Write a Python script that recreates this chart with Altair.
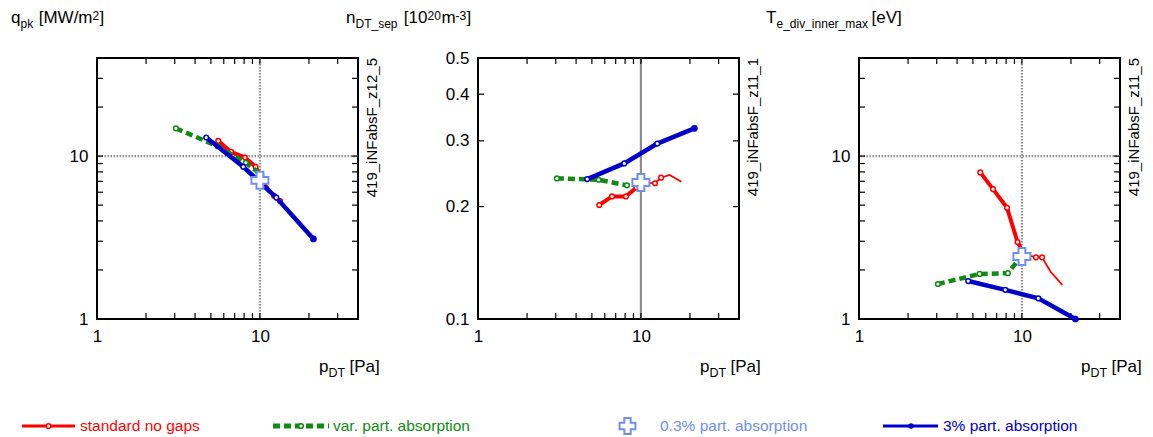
import altair as alt
import pandas as pd

FONT = "Liberation Sans"

# ---------------- data ----------------
# pressure p_DT [Pa]
p_red = [5.55, 6.65, 8.1, 9.4, 10.3, 12.2, 13.3, 15.0, 17.7]
p_green = [3.05, 5.5, 8.2, 10.5]
p_blue = [4.68, 7.9, 12.6, 21.3]
p_cross = [10.0]

# q_pk [MW/m2]
q_red = [12.4, 10.6, 9.8, 8.6, 7.3, 5.7, 5.3, 4.5, 3.8]
q_green = [14.8, 11.5, 9.1, 7.5]
q_blue = [13.0, 8.6, 5.56, 3.1]
q_cross = [7.1]

# n_DT_sep [1e20 m^-3]
n_red = [0.202, 0.213, 0.213, 0.225, 0.232, 0.231, 0.239, 0.243, 0.233]
n_green = [0.238, 0.236, 0.228, 0.229]
n_blue = [0.237, 0.261, 0.295, 0.324]
n_cross = [0.232]

# T_e_div_inner_max [eV]
T_red = [7.94, 6.27, 4.82, 2.97, 2.5, 2.39, 2.39, 1.95, 1.62]
T_green = [1.64, 1.89, 1.91, 2.6]
T_blue = [1.71, 1.51, 1.34, 1.0]
T_cross = [2.42]

x_labels = [1, 10]
x_ticks = [2, 3, 4, 5, 6, 7, 8, 9, 10, 20, 30]
x_grid = [10]
y_labels_a = [1, 10]
y_ticks_a = [2, 3, 4, 5, 6, 7, 8, 9, 10, 20, 30]
y_grid_a = [10]
y_labels_b = [0.1, 0.2, 0.3, 0.4, 0.5]
y_ticks_b = [0.2, 0.3, 0.4]

legend_names = ["standard no gaps", "var. part. absorption",
                "0.3% part. absorption", "3% part. absorption"]
run_ids = ["419_iNFabsF_z12_5", "419_iNFabsF_z11_1", "419_iNFabsF_z11_5"]

RED = "#ff0000"
GREEN = "#118a11"
BLUE = "#0000cc"
LBLUE = "#6f8ff0"

W = 261
H = 261
one = pd.DataFrame({"k": [0]})


def txt(s, x, y, size=16, color="black", align="left", baseline="alphabetic", angle=0):
    return alt.Chart(one).mark_text(
        text=s, align=align, baseline=baseline, fontSize=size, font=FONT,
        color=color, angle=angle
    ).encode(x=alt.value(x), y=alt.value(y))


def panel(pr, yr, pg, yg, pb, yb, pc, yc, ydom, ylabels, yticks, ygrid,
          title_parts, run_id, extra, grid_dash=(1.5, 1.5)):
    X = alt.X("p:Q", scale=alt.Scale(type="log", domain=[1, 40], nice=False),
              axis=alt.Axis(values=x_labels, format="~g", title=None, ticks=False,
                            domain=False, grid=False, labelFontSize=17, labelFont=FONT,
                            labelColor="black", labelPadding=9, labelFlush=False,
                            labelOverlap=False))
    Y = alt.Y("v:Q", scale=alt.Scale(type="log", domain=ydom, nice=False),
              axis=alt.Axis(values=ylabels, format="~g", title=None, ticks=False,
                            domain=False, grid=False, labelFontSize=17, labelFont=FONT,
                            labelColor="black", labelPadding=9, labelFlush=False,
                            labelOverlap=False))
    red = pd.DataFrame({"p": pr, "v": yr})
    green = pd.DataFrame({"p": pg, "v": yg})
    blue = pd.DataFrame({"p": pb, "v": yb})
    cross = pd.DataFrame({"p": pc, "v": yc})
    xt = pd.DataFrame({"p": x_ticks})
    yt = pd.DataFrame({"v": yticks})

    layers = []
    # grid lines at the decades
    layers.append(alt.Chart(pd.DataFrame({"p": x_grid})).mark_rule(
        color="#8c8c8c", strokeWidth=2.2, strokeDash=list(grid_dash)).encode(x=X))
    if ygrid:
        layers.append(alt.Chart(pd.DataFrame({"v": ygrid})).mark_rule(
            color="#8c8c8c", strokeWidth=2.2, strokeDash=list(grid_dash)).encode(y=Y))
    # inward ticks on all four sides
    tk = dict(color="black", strokeWidth=1.2)
    layers.append(alt.Chart(xt).mark_rule(**tk).encode(x=X, y=alt.value(H), y2=alt.value(H - 6)))
    layers.append(alt.Chart(xt).mark_rule(**tk).encode(x=X, y=alt.value(0), y2=alt.value(6)))
    layers.append(alt.Chart(yt).mark_rule(**tk).encode(y=Y, x=alt.value(0), x2=alt.value(6)))
    layers.append(alt.Chart(yt).mark_rule(**tk).encode(y=Y, x=alt.value(W - 6), x2=alt.value(W)))

    # standard no gaps (red): thick first part, thin tail
    layers.append(alt.Chart(red.iloc[:5]).mark_line(color=RED, strokeWidth=4).encode(x=X, y=Y))
    layers.append(alt.Chart(red.iloc[4:]).mark_line(color=RED, strokeWidth=1.8).encode(x=X, y=Y))
    layers.append(alt.Chart(red.iloc[[0, 1, 2, 3, 5, 6]]).mark_point(
        shape="circle", filled=True, fill="white", stroke=RED, strokeWidth=1.5,
        size=22, opacity=1).encode(x=X, y=Y))
    # var. part. absorption (green dashed)
    layers.append(alt.Chart(green).mark_line(color=GREEN, strokeWidth=4.5,
                                             strokeDash=[7, 4]).encode(x=X, y=Y))
    layers.append(alt.Chart(green.iloc[:3]).mark_point(
        shape="circle", filled=True, fill="white", stroke=GREEN, strokeWidth=1.5,
        size=22, opacity=1).encode(x=X, y=Y))
    # 3% part. absorption (blue)
    layers.append(alt.Chart(blue).mark_line(color=BLUE, strokeWidth=4.5).encode(x=X, y=Y))
    layers.append(alt.Chart(blue.iloc[:3]).mark_point(
        shape="circle", filled=True, fill="white", stroke=BLUE, strokeWidth=1.5,
        size=22, opacity=1).encode(x=X, y=Y))
    layers.append(alt.Chart(blue.iloc[3:]).mark_point(
        shape="circle", filled=True, color=BLUE, size=45, opacity=1).encode(x=X, y=Y))
    # 0.3% part. absorption (open cross)
    layers.append(alt.Chart(cross).mark_point(
        shape="cross", filled=True, fill="white", stroke=LBLUE, strokeWidth=2,
        size=290, opacity=1).encode(x=X, y=Y))

    # titles
    for (s, x, y, size) in title_parts:
        layers.append(txt(s, x, y, size))
    # x-axis title p_DT [Pa]
    layers.append(txt("p", 222, 314, 17))
    layers.append(txt("DT", 231.5, 319, 12.5))
    layers.append(txt("[Pa]", 252.5, 314, 17))
    # run id (rotated)
    layers.append(txt(run_id, W + 14, 0, 15, align="right", baseline="middle", angle=270))
    layers.extend(extra)
    return alt.layer(*layers).properties(width=W, height=H)


LY = 368
# legend pieces attached to the panels
leg1 = [
    alt.Chart(one).mark_rule(color=RED, strokeWidth=3).encode(
        x=alt.value(-75), x2=alt.value(-22), y=alt.value(LY)),
    alt.Chart(one).mark_point(shape="circle", filled=True, fill="white", stroke=RED,
                              strokeWidth=1.5, size=22, opacity=1).encode(
        x=alt.value(-48.5), y=alt.value(LY)),
    txt(legend_names[0], -17, LY, 15.5, color=RED, baseline="middle"),
    alt.Chart(one).mark_rule(color=GREEN, strokeWidth=5, strokeDash=[7, 4]).encode(
        x=alt.value(176), x2=alt.value(232), y=alt.value(LY)),
    alt.Chart(one).mark_point(shape="circle", filled=True, fill="white", stroke=GREEN,
                              strokeWidth=1.5, size=22, opacity=1).encode(
        x=alt.value(204), y=alt.value(LY)),
    txt(legend_names[1], 236, LY, 15.5, color=GREEN, baseline="middle"),
]
leg2 = [
    alt.Chart(one).mark_point(shape="cross", filled=True, fill="white", stroke=LBLUE,
                              strokeWidth=2, size=250, opacity=1).encode(
        x=alt.value(149.5), y=alt.value(LY)),
    txt(legend_names[2], 182, LY, 15.5, color=LBLUE, baseline="middle"),
]
leg3 = [
    alt.Chart(one).mark_rule(color=BLUE, strokeWidth=3).encode(
        x=alt.value(24), x2=alt.value(79), y=alt.value(LY)),
    alt.Chart(one).mark_point(shape="circle", filled=True, color=BLUE, size=30,
                              opacity=1).encode(x=alt.value(52), y=alt.value(LY)),
    txt(legend_names[3], 84, LY, 15.5, color=BLUE, baseline="middle"),
]

TB = -35      # title baseline
TS = -30      # subscript baseline
TP = -38.5    # superscript baseline
t1 = [("q", -86, TB, 17), ("pk", -76.5, TS, 12), ("[MW/m", -58.3, TB, 17),
      ("2", -4.5, TP, 12), ("]", 2.5, TB, 17)]
t2 = [("n", -132, TB, 17), ("DT_sep", -122.5, TS, 12), ("[10", -74.3, TB, 17),
      ("20", -50.5, TP, 12), ("m", -36.5, TB, 17), ("-3", -22.5, TP, 12),
      ("]", -11.5, TB, 17)]
t3 = [("T", -93, TB, 17), ("e_div_inner_max", -82.5, TS, 12), ("[eV]", 12.5, TB, 17)]

c1 = panel(p_red, q_red, p_green, q_green, p_blue, q_blue, p_cross, q_cross,
           [1, 40], y_labels_a, y_ticks_a, y_grid_a, t1, run_ids[0], leg1)
c2 = panel(p_red, n_red, p_green, n_green, p_blue, n_blue, p_cross, n_cross,
           [0.1, 0.5], y_labels_b, y_ticks_b, [], t2, run_ids[1], leg2, grid_dash=(1, 0))
c3 = panel(p_red, T_red, p_green, T_green, p_blue, T_blue, p_cross, T_cross,
           [1, 40], y_labels_a, y_ticks_a, y_grid_a, t3, run_ids[2], leg3)

chart = alt.hconcat(c1, c2, c3, spacing=120, bounds="flush").properties(
    padding={"left": 2, "top": 0, "right": 0, "bottom": 0}
).configure_view(stroke="black", strokeWidth=2)

chart.save("out.html", embed_options={"renderer": "svg", "actions": False})
